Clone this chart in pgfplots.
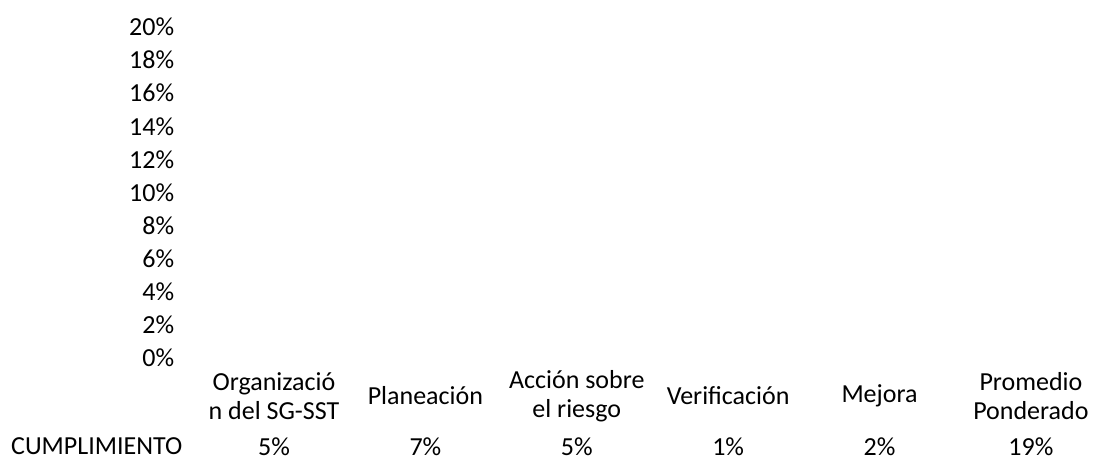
\documentclass[border=0pt]{standalone}
\usepackage{fontspec}
\setmainfont{Carlito}
\usepackage{pgfplots}
\pgfplotsset{compat=1.18}
\newcommand{\chartfont}{\fontsize{26pt}{28.5pt}\selectfont}
\begin{document}
\chartfont
\begin{tikzpicture}
\useasboundingbox (0,0) rectangle (1093pt,460pt);
\begin{axis}[
  scale only axis,
  width=894.7pt, height=331pt,
  at={(198.3pt,102pt)}, anchor=south west,
  xmin=-0.5, xmax=5.41,
  ymin=0, ymax=20,
  clip=false,
  axis line style={draw=none},
  tick style={draw=none},
  major tick length=0pt,
  ytick={0,2,...,20},
  yticklabel={\pgfmathprintnumber[assume math mode=true]{\tick}\%},
  tick label style={font=\chartfont},
  yticklabel style={anchor=east, inner sep=0pt, xshift=-24pt},
  xtick=data,
  xticklabels={{Organizació\\n del SG-SST},{Planeación},{Acción sobre\\el riesgo},{Verificación},{Mejora},{Promedio\\Ponderado}},
  xticklabel style={anchor=center, align=center, inner sep=0pt, yshift=-38pt},
  /pgf/number format/assume math mode=true,
]
\addplot[ybar, bar width=60pt, fill=white, draw=none] coordinates {(0,5) (1,7) (2,5) (3,1) (4,2) (5,19)};
\addplot[draw=none, mark=none, point meta=explicit,
  nodes near coords={\pgfmathprintnumber[assume math mode=true]{\pgfplotspointmeta}\%},
  every node near coord/.style={anchor=center, inner sep=0pt, font=\chartfont}]
  coordinates {(0,-5.35) [5] (1,-5.35) [7] (2,-5.35) [5] (3,-5.35) [1] (4,-5.35) [2] (5,-5.35) [19]};
\end{axis}
\node[anchor=west, inner sep=0pt, font=\chartfont] at (11pt,13.5pt) {CUMPLIMIENTO};
\end{tikzpicture}
\end{document}
